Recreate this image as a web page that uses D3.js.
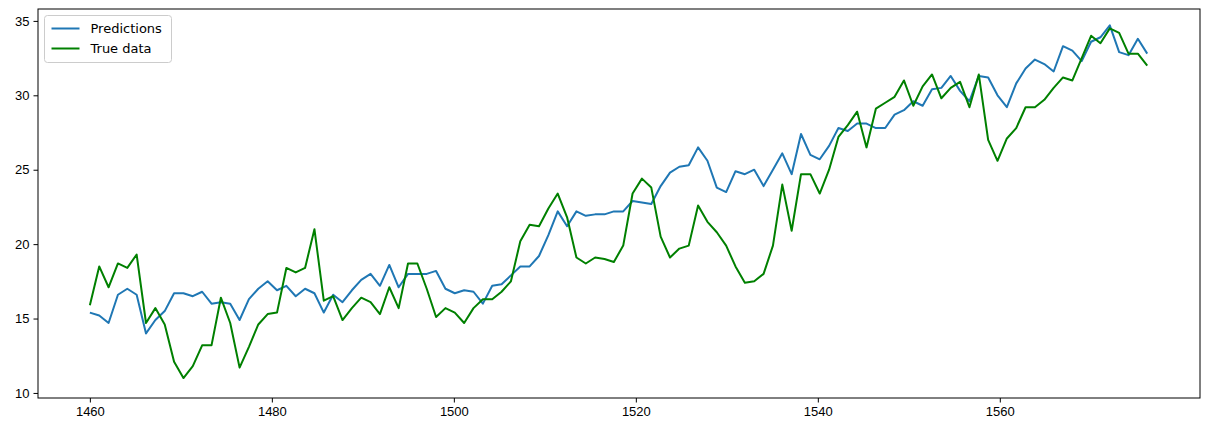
<!DOCTYPE html>
<html>
<head>
<meta charset="utf-8">
<script src="https://cdn.jsdelivr.net/npm/d3@7"></script>
<style>
  body { margin: 0; background: #fff; font-family: "DejaVu Sans", sans-serif; }
  .tick text { font-size: 13px; fill: #000; }
  .tick line { stroke: #000; }
</style>
</head>
<body>
<div id="root"></div>
<script>
// Data. The points sit evenly between firstX and lastX.
const firstX = 1460;
const lastX = 1576.2;
const predictions = [15.4, 15.2, 14.7, 16.6, 17.0, 16.6, 14.0, 14.9, 15.5, 16.7, 16.7, 16.5, 16.8, 16.0, 16.1, 16.0, 14.9, 16.3, 17.0, 17.5,
  16.9, 17.2, 16.5, 17.0, 16.7, 15.4, 16.6, 16.1, 16.9, 17.6, 18.0, 17.2, 18.6, 17.1, 18.0, 18.0, 18.0, 18.2, 17.0, 16.7,
  16.9, 16.8, 16.0, 17.2, 17.3, 17.9, 18.5, 18.5, 19.2, 20.6, 22.2, 21.2, 22.2, 21.9, 22.0, 22.0, 22.2, 22.2, 22.9, 22.8,
  22.7, 23.9, 24.8, 25.2, 25.3, 26.5, 25.6, 23.8, 23.5, 24.9, 24.7, 25.0, 23.9, 25.0, 26.1, 24.7, 27.4, 26.0, 25.7, 26.6,
  27.8, 27.6, 28.1, 28.1, 27.8, 27.8, 28.7, 29.0, 29.6, 29.3, 30.4, 30.5, 31.3, 30.3, 29.6, 31.3, 31.2, 30.0, 29.2, 30.8,
  31.8, 32.4, 32.1, 31.6, 33.3, 33.0, 32.3, 33.6, 33.9, 34.7, 32.9, 32.7, 33.8, 32.8];
const trueData = [15.9, 18.5, 17.1, 18.7, 18.4, 19.3, 14.7, 15.7, 14.6, 12.1, 11.0, 11.8, 13.2, 13.2, 16.4, 14.7, 11.7, 13.1, 14.6, 15.3,
  15.4, 18.4, 18.1, 18.4, 21.0, 16.2, 16.5, 14.9, 15.7, 16.4, 16.1, 15.3, 17.1, 15.7, 18.7, 18.7, 17.0, 15.1, 15.7, 15.4,
  14.7, 15.7, 16.3, 16.3, 16.8, 17.5, 20.2, 21.3, 21.2, 22.4, 23.4, 21.8, 19.1, 18.7, 19.1, 19.0, 18.8, 19.9, 23.4, 24.4,
  23.8, 20.5, 19.1, 19.7, 19.9, 22.6, 21.5, 20.8, 19.9, 18.5, 17.4, 17.5, 18.0, 19.9, 24.0, 20.9, 24.7, 24.7, 23.4, 25.0,
  27.2, 28.0, 28.9, 26.5, 29.1, 29.5, 29.9, 31.0, 29.3, 30.6, 31.4, 29.8, 30.5, 30.9, 29.2, 31.4, 27.0, 25.6, 27.1, 27.8,
  29.2, 29.2, 29.7, 30.5, 31.2, 31.0, 32.5, 34.0, 33.5, 34.5, 34.2, 32.8, 32.8, 32.0];
const xTicks = [1460, 1480, 1500, 1520, 1540, 1560];
const yTicks = [10, 15, 20, 25, 30, 35];
const seriesNames = ['Predictions', 'True data'];
const seriesColors = ['#1f77b4', 'green'];

const margin = { top: 9, right: 9, bottom: 30, left: 38 };
const width = 1209 - margin.left - margin.right;
const height = 428 - margin.top - margin.bottom;

const x = d3.scaleLinear().domain([1454.3, 1582]).range([0, width]);
const y = d3.scaleLinear().domain([9.66, 35.8]).range([height, 0]);
const step = (lastX - firstX) / (predictions.length - 1);

const svg = d3.select('#root').append('svg')
  .attr('width', 1209).attr('height', 428)
  .append('g')
  .attr('transform', `translate(${margin.left}, ${margin.top})`);

svg.append('g')
  .attr('transform', `translate(0, ${height})`)
  .call(d3.axisBottom(x).tickValues(xTicks).tickFormat(d3.format('d')).tickSize(4.5).tickPadding(4))
  .call(g => g.select('.domain').remove());

svg.append('g')
  .call(d3.axisLeft(y).tickValues(yTicks).tickSize(4.5).tickPadding(4))
  .call(g => g.select('.domain').remove());

svg.append('rect')
  .attr('width', width).attr('height', height)
  .attr('fill', 'none').attr('stroke', '#000').attr('stroke-width', 1);

const line = d3.line()
  .x((d, i) => x(firstX + i * step))
  .y(d => y(d));

[predictions, trueData].forEach((s, k) => {
  svg.append('path')
    .datum(s)
    .attr('fill', 'none')
    .attr('stroke', seriesColors[k])
    .attr('stroke-width', 2)
    .attr('stroke-linejoin', 'round')
    .attr('d', line);
});

// Legend
const legend = svg.append('g').attr('transform', 'translate(6.5, 6.5)');
legend.append('rect')
  .attr('width', 127).attr('height', 47).attr('rx', 3)
  .attr('fill', '#fff').attr('fill-opacity', 0.8)
  .attr('stroke', '#ccc');
seriesNames.forEach((name, i) => {
  const g = legend.append('g').attr('transform', `translate(7, ${13 + i * 20})`);
  g.append('line').attr('x1', 0).attr('x2', 28)
    .attr('stroke', seriesColors[i]).attr('stroke-width', 2);
  g.append('text').attr('x', 39).attr('dy', '0.35em')
    .style('font-size', '13px').text(name);
});
</script>
</body>
</html>
